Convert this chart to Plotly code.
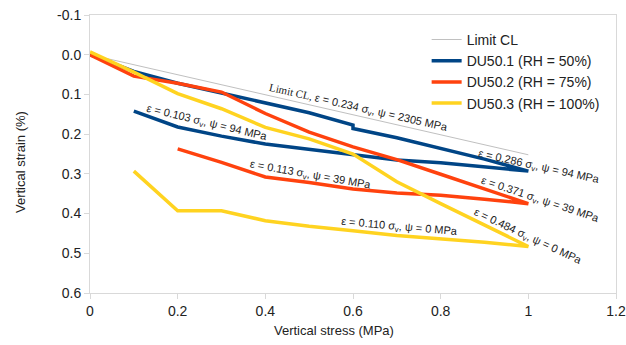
import plotly.graph_objects as go

# ---- data ----
limit_x = [0.0, 1.0]
limit_y = [0.0, 0.252]

du1_x = [0, 0.1, 0.2, 0.3, 0.4, 0.5, 0.6, 0.6, 0.7, 0.8, 0.9, 1.0,
         0.9, 0.8, 0.7, 0.6, 0.5, 0.4, 0.3, 0.2, 0.1]
du1_y = [0, 0.042, 0.072, 0.097, 0.121, 0.146, 0.177, 0.186, 0.209, 0.235, 0.263, 0.293,
         0.283, 0.272, 0.265, 0.252, 0.239, 0.225, 0.205, 0.182, 0.142]

du2_x = [0, 0.1, 0.2, 0.3, 0.4, 0.5, 0.6, 0.7, 0.8, 0.9, 1.0,
         0.9, 0.8, 0.7, 0.6, 0.5, 0.4, 0.3, 0.2]
du2_y = [0, 0.054, 0.072, 0.094, 0.148, 0.195, 0.232, 0.264, 0.301, 0.338, 0.375,
         0.364, 0.354, 0.348, 0.338, 0.322, 0.308, 0.271, 0.237]

du3_x = [0, 0.1, 0.2, 0.3, 0.4, 0.5, 0.6, 0.7, 0.8, 0.9, 1.0,
         0.9, 0.8, 0.7, 0.6, 0.5, 0.4, 0.3, 0.2, 0.1]
du3_y = [-0.007, 0.044, 0.098, 0.136, 0.183, 0.212, 0.25, 0.32, 0.375, 0.43, 0.483,
         0.472, 0.464, 0.455, 0.443, 0.432, 0.418, 0.393, 0.393, 0.293]

names = ["Limit CL", "DU50.1 (RH = 50%)", "DU50.2 (RH = 75%)", "DU50.3 (RH = 100%)"]
colors = ["#c0c0c0", "#004586", "#ff420e", "#ffd320"]
widths = [1, 3.5, 3.5, 3.5]

x_ticks = [0, 0.2, 0.4, 0.6, 0.8, 1.0, 1.2]
x_tick_text = ["0", "0.2", "0.4", "0.6", "0.8", "1", "1.2"]
y_ticks = [-0.1, 0.0, 0.1, 0.2, 0.3, 0.4, 0.5, 0.6]
y_tick_text = ["-0.1", "0.0", "0.1", "0.2", "0.3", "0.4", "0.5", "0.6"]

# annotation texts with (x, y, angle)
labels = [
    ("<span style='font-family:Liberation Serif'>Limit CL, </span>ε = 0.234 σ<sub>v</sub>, ψ = 2305 MPa", 0.612, 0.134, 12.8),
    ("ε = 0.103 σ<sub>v</sub>, ψ = 94 MPa", 0.267, 0.172, 13.5),
    ("ε = 0.113 σ<sub>v</sub>, ψ = 39 MPa", 0.502, 0.304, 10),
    ("ε = 0.110 σ<sub>v</sub>, ψ = 0 MPa", 0.707, 0.433, 5),
    ("ε = 0.286 σ<sub>v</sub>, ψ = 94 MPa", 1.024, 0.283, 12.5),
    ("ε = 0.371 σ<sub>v</sub>, ψ = 39 MPa", 1.027, 0.367, 18.4),
    ("ε = 0.484 σ<sub>v</sub>, ψ = 0 MPa", 1.0, 0.458, 25),
]

FONT = "Liberation Sans, Arial, sans-serif"

fig = go.Figure()
series = [(limit_x, limit_y), (du1_x, du1_y), (du2_x, du2_y), (du3_x, du3_y)]
for (sx, sy), n, c, w in zip(series, names, colors, widths):
    fig.add_trace(go.Scatter(x=sx, y=sy, mode="lines", name=n,
                             line=dict(color=c, width=w)))

for t, ax, ay, ang in labels:
    fig.add_annotation(x=ax, y=ay, xref="x", yref="y", text=t, textangle=ang,
                       showarrow=False, font=dict(family=FONT, size=11, color="#222"))

fig.add_annotation(x=(334 - 90) / 526, y=(293 - 330) / 278, xref="paper", yref="paper",
                   xanchor="center", yanchor="middle",
                   text="Vertical stress (MPa)", showarrow=False,
                   font=dict(family=FONT, size=13, color="#222"))
fig.add_annotation(x=(20 - 90) / 526, y=(293 - 162) / 278, xref="paper", yref="paper",
                   xanchor="center", yanchor="middle",
                   text="Vertical strain (%)", showarrow=False, textangle=-90,
                   font=dict(family=FONT, size=13, color="#222"))

axis_common = dict(showgrid=False, zeroline=False, showline=True, linecolor="#d9d9d9",
                   linewidth=1, mirror=True, ticks="outside", ticklen=5, tickcolor="#d9d9d9",
                   automargin=False,
                   tickfont=dict(family=FONT, size=14, color="#222"))

fig.update_layout(
    width=626, height=345,
    margin=dict(l=90, r=10, t=15, b=52),
    paper_bgcolor="white", plot_bgcolor="white",
    xaxis=dict(range=[0, 1.2], tickvals=x_ticks, ticktext=x_tick_text, **axis_common),
    yaxis=dict(range=[0.6, -0.1], tickvals=y_ticks, ticktext=y_tick_text, **axis_common),
    legend=dict(x=0.640, y=0.968, xanchor="left", yanchor="top", bgcolor="rgba(0,0,0,0)",
                font=dict(family=FONT, size=14, color="#222")),
    showlegend=True,
)

fig.write_html("out.html")
